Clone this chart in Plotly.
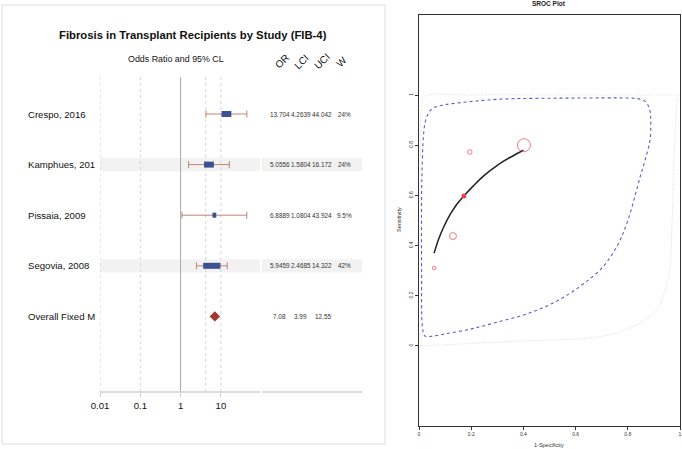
import plotly.graph_objects as go
import numpy as np

W_PX, H_PX = 682, 449

# ---------------- Forest plot data ----------------
studies = ["Crespo, 2016", "Kamphues, 201", "Pissaia, 2009", "Segovia, 2008"]
odds_ratio = [13.704, 5.0556, 6.8889, 5.9459]
lci = [4.2639, 1.5804, 1.0804, 2.4685]
uci = [44.042, 16.172, 43.924, 14.322]
weight_pct = [24, 24, 9.5, 42]
or_txt = ["13.704", "5.0556", "6.8889", "5.9459"]
lci_txt = ["4.2639", "1.5804", "1.0804", "2.4685"]
uci_txt = ["44.042", "16.172", "43.924", "14.322"]
w_txt = ["24%", "24%", "9.5%", "42%"]
overall_label = "Overall Fixed M"
overall_or, overall_lci, overall_uci = 7.08, 3.99, 12.55
overall_txt = ["7.08", "3.99", "12.55"]
x_tickvals = [0.01, 0.1, 1, 10]
x_ticktext = ["0.01", "0.1", "1", "10"]
dashed_refs = [0.01, 0.1, 4.2, 10]
solid_ref = 1
col_headers = ["OR", "LCI", "UCI", "W"]

# ---------------- SROC data ----------------
study_fpr = [0.402, 0.195, 0.130, 0.058]
study_sens = [0.800, 0.773, 0.438, 0.310]
study_size = [13, 4.5, 7, 3.5]
summary_fpr, summary_sens = [0.172], [0.598]
curve_fpr = [0.058, 0.075, 0.095, 0.12, 0.145, 0.172, 0.21, 0.25, 0.30, 0.35, 0.40]
curve_sens = [0.370, 0.425, 0.475, 0.525, 0.565, 0.598, 0.640, 0.680, 0.720, 0.752, 0.780]
conf_fpr = [0.010, 0.012, 0.016, 0.023, 0.035, 0.054, 0.092, 0.145, 0.22, 0.32, 0.6, 0.80,
            0.835, 0.862, 0.877, 0.886, 0.888, 0.885, 0.866, 0.847, 0.80, 0.76, 0.70, 0.62,
            0.53, 0.42, 0.30, 0.20, 0.10, 0.045, 0.022, 0.013, 0.010, 0.010]
conf_sens = [0.60, 0.70, 0.82, 0.888, 0.925, 0.948, 0.960, 0.968, 0.976, 0.984, 0.988, 0.988,
             0.986, 0.978, 0.960, 0.930, 0.900, 0.820, 0.740, 0.673, 0.500, 0.400, 0.310, 0.240,
             0.180, 0.130, 0.095, 0.068, 0.048, 0.038, 0.040, 0.080, 0.300, 0.60]
pred_fpr = [0.008, 0.008, 0.008, 0.012, 0.02, 0.2, 0.6, 1.0]
pred_sens = [0.0, 0.5, 0.93, 0.97, 0.995, 1.0, 1.0, 1.0]
pred2_fpr = [0.0, 0.2, 0.4, 0.655, 0.75, 0.847, 0.912, 0.943, 0.96, 0.97, 0.978, 0.99]
pred2_sens = [0.0, 0.01, 0.02, 0.032, 0.05, 0.092, 0.143, 0.223, 0.30, 0.50, 0.78, 0.99]
sroc_ticks = [0, 0.2, 0.4, 0.6, 0.8, 1]


def px_x(p):
    return p / W_PX


def px_y(p):
    return 1 - p / H_PX


FONT = "Liberation Sans, Arial, sans-serif"
BOX_COLOR = "#3d5092"
WHISK_COLOR = "#c08573"
DIAMOND_COLOR = "#a3382c"
RED = "#e64550"

fig = go.Figure()

# forest geometry
row_px0, row_step = 114, 50.6
ax_top_px, ax_bot_px = 77, 392
y_lo = (ax_bot_px - row_px0) / row_step
y_hi = (ax_top_px - row_px0) / row_step
dec_px = 40.3
fx0_px, fx1_px = 100, 362
xr = [-2, -2 + (fx1_px - fx0_px) / dec_px]

# reference lines
for v in dashed_refs:
    fig.add_trace(go.Scatter(x=[v, v], y=[y_lo, y_hi], mode="lines",
                             line=dict(color="#d4d4d4", width=1, dash="3px,3px"),
                             xaxis="x", yaxis="y", showlegend=False, hoverinfo="skip"))
fig.add_trace(go.Scatter(x=[solid_ref, solid_ref], y=[y_lo, y_hi], mode="lines",
                         line=dict(color="#a8a8a8", width=1),
                         xaxis="x", yaxis="y", showlegend=False, hoverinfo="skip"))

shapes = []
annotations = []

# shaded bands for alternate rows
for i in range(len(studies)):
    if i % 2 == 1:
        for a, b in [(100, 260), (262, 362)]:
            shapes.append(dict(type="rect", xref="paper", yref="y",
                               x0=px_x(a), x1=px_x(b), y0=i - 0.13, y1=i + 0.13,
                               fillcolor="#f2f2f2", line=dict(width=0), layer="below"))

# whiskers, caps, boxes
for i in range(len(studies)):
    fig.add_trace(go.Scatter(x=[lci[i], uci[i]], y=[i, i], mode="lines",
                             line=dict(color=WHISK_COLOR, width=1),
                             xaxis="x", yaxis="y", showlegend=False, hoverinfo="skip"))
    fig.add_trace(go.Scatter(x=[lci[i], uci[i]], y=[i, i], mode="markers",
                             marker=dict(symbol="line-ns", size=5,
                                         line=dict(color=WHISK_COLOR, width=1)),
                             xaxis="x", yaxis="y", showlegend=False, hoverinfo="skip"))
    hw = (0.41 * weight_pct[i] / 2) / dec_px
    fig.add_trace(go.Scatter(x=[odds_ratio[i] * 10 ** (-hw), odds_ratio[i] * 10 ** hw],
                             y=[i, i], mode="lines",
                             line=dict(color=BOX_COLOR, width=6 if weight_pct[i] > 15 else 5),
                             xaxis="x", yaxis="y", showlegend=False, hoverinfo="skip"))

ov_row = len(studies)
fig.add_trace(go.Scatter(x=[overall_or], y=[ov_row], mode="markers",
                         marker=dict(symbol="diamond", size=8, color=DIAMOND_COLOR),
                         xaxis="x", yaxis="y", showlegend=False, hoverinfo="skip"))

# labels
for i, s in enumerate(studies + [overall_label]):
    annotations.append(dict(text=s, xref="paper", yref="y", x=px_x(26), y=i,
                            xanchor="left", yanchor="middle", showarrow=False,
                            font=dict(size=9.6, color="#111", family=FONT)))
col_x = [280, 301, 322, 344]
for i in range(len(studies)):
    for cx, t in zip(col_x, [or_txt[i], lci_txt[i], uci_txt[i], w_txt[i]]):
        annotations.append(dict(text=t, xref="paper", yref="y", x=px_x(cx), y=i,
                                xanchor="center", yanchor="middle", showarrow=False,
                                font=dict(size=6.4, color="#333", family=FONT)))
for cx, t in zip([279, 300, 323], overall_txt):
    annotations.append(dict(text=t, xref="paper", yref="y", x=px_x(cx), y=ov_row,
                            xanchor="center", yanchor="middle", showarrow=False,
                            font=dict(size=6.4, color="#333", family=FONT)))
for cx, t in zip([282, 302, 322, 342], col_headers):
    annotations.append(dict(text=t, xref="paper", yref="paper", x=px_x(cx), y=px_y(62),
                            xanchor="center", yanchor="middle", showarrow=False, textangle=-45,
                            font=dict(size=10, color="#111", family=FONT)))
annotations.append(dict(text="<b>Fibrosis in Transplant Recipients by Study (FIB-4)</b>",
                        xref="paper", yref="paper", x=px_x(192.5), y=px_y(35),
                        xanchor="center", yanchor="middle", showarrow=False,
                        font=dict(size=11.3, color="#111", family=FONT)))
annotations.append(dict(text="Odds Ratio and 95% CL", xref="paper", yref="paper",
                        x=px_x(175.5), y=px_y(59), xanchor="center", yanchor="middle",
                        showarrow=False, font=dict(size=8.9, color="#111", family=FONT)))

# forest axis line (split) and frame
for a, b in [(100, 260), (262, 362)]:
    shapes.append(dict(type="line", xref="paper", yref="paper", x0=px_x(a), x1=px_x(b),
                       y0=px_y(392), y1=px_y(392), line=dict(color="#d0d0d0", width=1.5)))
shapes.append(dict(type="rect", xref="paper", yref="paper", x0=px_x(2), x1=px_x(385),
                   y0=px_y(444), y1=px_y(5), line=dict(color="#dcdcdc", width=1)))

# ---------------- SROC traces ----------------
fig.add_trace(go.Scatter(x=pred_fpr, y=pred_sens, mode="lines", line_shape="spline",
                         line=dict(color="#dadada", width=1, dash="1px,1.5px"),
                         xaxis="x2", yaxis="y2", showlegend=False, hoverinfo="skip"))
fig.add_trace(go.Scatter(x=pred2_fpr, y=pred2_sens, mode="lines", line_shape="spline",
                         line=dict(color="#dadada", width=1, dash="1px,1.5px"),
                         xaxis="x2", yaxis="y2", showlegend=False, hoverinfo="skip"))
fig.add_trace(go.Scatter(x=conf_fpr, y=conf_sens, mode="lines", line_shape="spline",
                         line=dict(color="#5a5ad8", width=1.1, dash="3px,3px"),
                         xaxis="x2", yaxis="y2", showlegend=False, hoverinfo="skip"))
fig.add_trace(go.Scatter(x=curve_fpr, y=curve_sens, mode="lines", line_shape="spline",
                         line=dict(color="#222", width=1.5),
                         xaxis="x2", yaxis="y2", showlegend=False, hoverinfo="skip"))
fig.add_trace(go.Scatter(x=study_fpr, y=study_sens, mode="markers",
                         marker=dict(symbol="circle-open", size=study_size,
                                     line=dict(color=RED, width=1), color=RED),
                         xaxis="x2", yaxis="y2", showlegend=False, hoverinfo="skip"))
fig.add_trace(go.Scatter(x=summary_fpr, y=summary_sens, mode="markers",
                         marker=dict(symbol="circle", size=5, color=RED),
                         xaxis="x2", yaxis="y2", showlegend=False, hoverinfo="skip"))

annotations.append(dict(text="<b>SROC Plot</b>", xref="paper", yref="paper",
                        x=px_x(549), y=px_y(4), xanchor="center", yanchor="middle",
                        showarrow=False, font=dict(size=6.5, color="#222", family=FONT)))
annotations.append(dict(text="1-Specificity", xref="paper", yref="paper",
                        x=px_x(549), y=px_y(445), xanchor="center", yanchor="middle",
                        showarrow=False, font=dict(size=5.5, color="#333", family=FONT)))
annotations.append(dict(text="Sensitivity", xref="paper", yref="paper",
                        x=px_x(399), y=px_y(220), xanchor="center", yanchor="middle",
                        textangle=-90, showarrow=False,
                        font=dict(size=5.5, color="#333", family=FONT)))

fig.update_layout(
    template="none",
    width=W_PX, height=H_PX, autosize=False,
    margin=dict(l=0, r=0, t=0, b=0, pad=0),
    paper_bgcolor="white", plot_bgcolor="rgba(0,0,0,0)",
    showlegend=False,
    font=dict(family=FONT),
    xaxis=dict(type="log", domain=[px_x(fx0_px), px_x(fx1_px)], range=xr, automargin=False,
               tickvals=x_tickvals, ticktext=x_ticktext, showgrid=False, zeroline=False,
               showline=False, ticks="outside", ticklen=4, tickcolor="#d0d0d0",
               tickfont=dict(size=9.6, color="#111", family=FONT), fixedrange=True),
    yaxis=dict(domain=[px_y(ax_bot_px), px_y(ax_top_px)], range=[y_lo, y_hi], automargin=False,
               showgrid=False, zeroline=False, showticklabels=False, showline=False,
               ticks="", fixedrange=True),
    xaxis2=dict(domain=[px_x(419), px_x(680)], range=[0, 1], anchor="y2", automargin=False,
                tickvals=sroc_ticks, showgrid=False, zeroline=False, showline=True,
                mirror=True, linecolor="#333", linewidth=1, ticks="outside", ticklen=3,
                tickcolor="#333", tickfont=dict(size=5, color="#333", family=FONT)),
    yaxis2=dict(domain=[px_y(426), px_y(15)], range=[-0.319, 1.319], anchor="x2",
                automargin=False,
                tickvals=sroc_ticks, showgrid=False, zeroline=False, showline=True,
                mirror=True, linecolor="#333", linewidth=1, ticks="outside", ticklen=3,
                tickcolor="#333", tickangle=-90,
                tickfont=dict(size=5, color="#333", family=FONT)),
    shapes=shapes,
    annotations=annotations,
)

fig.write_html("out.html", config={"displayModeBar": False, "staticPlot": True},
               post_script="document.body.style.margin='0';document.body.style.overflow='hidden';")
